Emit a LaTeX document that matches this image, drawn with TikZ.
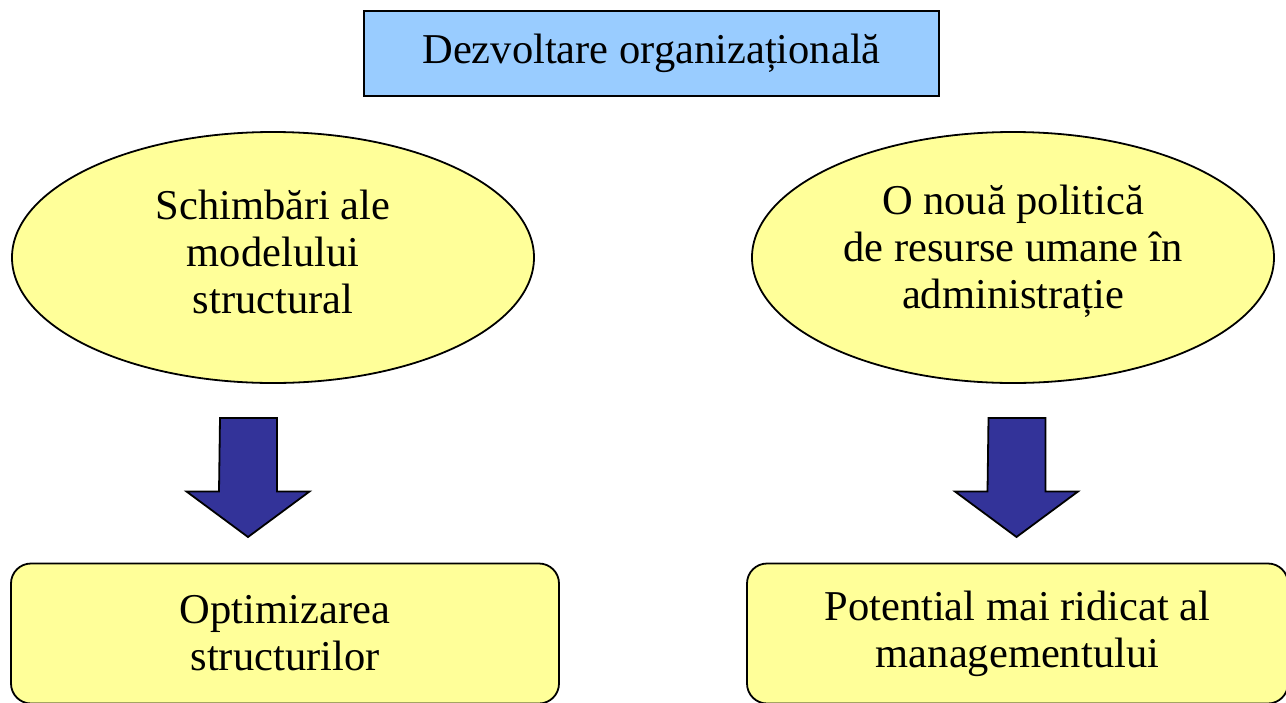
\documentclass[tikz,border=0pt]{standalone}
\usepackage{fontspec}
\setmainfont{Liberation Serif}
\usetikzlibrary{shapes.geometric}
\definecolor{topblue}{HTML}{99CCFF}
\definecolor{paleyellow}{HTML}{FFFF99}
\definecolor{arrowblue}{HTML}{333399}
\tikzset{
  label text/.style={align=center, font=\fontsize{21.25}{23.5}\selectfont, text=black},
  titlebox/.style={label text, draw=black, line width=0.9pt, fill=topblue, inner sep=0pt,
    minimum width=287.5pt, minimum height=42.5pt},
  topic/.style={ellipse, draw=black, line width=0.9pt, fill=paleyellow, inner sep=0pt,
    minimum width=261pt, minimum height=125.5pt},
  outcome/.style={label text, draw=black, line width=0.9pt, fill=paleyellow, rounded corners=10pt,
    inner sep=0pt, minimum height=70pt},
  blockarrow/.style={draw=black, line width=0.9pt, fill=arrowblue, line join=miter}
}
\begin{document}
\begin{tikzpicture}[x=0.5pt, y=-0.5pt]
  \useasboundingbox (0,0) rectangle (1286,702);
  \clip (0,0) rectangle (1286,702);

  % title
  \node[titlebox] (title) at (651.5,53.5) {Dezvoltare organizațională};

  % the two directions of change (text sits slightly above the ellipse centre)
  \node[topic] (struct) at (273,257.5) {};
  \node[label text] (structtext) at ([yshift=3pt]struct.center) {Schimbări ale\\modelului\\structural};
  \node[topic] (hr) at (1013,257.5) {};
  \node[label text] (hrtext) at ([yshift=3pt]hr.center) {O nouă politică\\de resurse umane în\\administrație};

  % outcomes
  \node[outcome, minimum width=274pt] (opt) at (285,633.5) {Optimizarea\\structurilor};
  \node[outcome, minimum width=270.5pt] (mgmt) at (1017.5,633.5) {Potential mai ridicat al\\managementului};

  % block arrows leading from each topic to its outcome
  \coordinate (la) at (248.5,418);
  \coordinate (ra) at (1017,418);
  \foreach \c in {la,ra}{
    \draw[blockarrow] (\c) ++(-28.5,0) -- ++(57,0) -- ++(0,73.5) -- ++(32.5,0)
      -- ++(-61.5,45.5) -- ++(-61.5,-45.5) -- ++(32.5,0) -- cycle;
  }
\end{tikzpicture}
\end{document}
